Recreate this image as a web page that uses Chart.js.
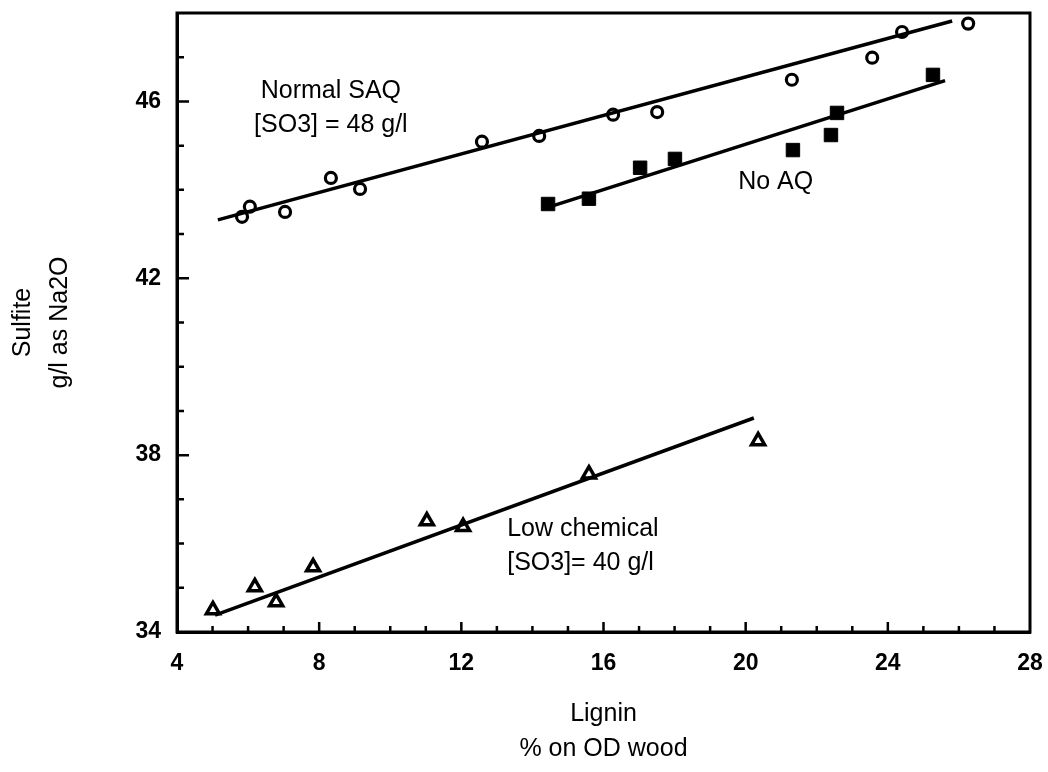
<!DOCTYPE html>
<html>
<head>
<meta charset="utf-8">
<script src="https://cdn.jsdelivr.net/npm/chart.js@4.4.1/dist/chart.umd.min.js"></script>
<style>
html,body{margin:0;padding:0;background:#fff;}
#wrap{width:1048px;height:772px;position:relative;}
</style>
</head>
<body>
<div id="wrap"><canvas id="c"></canvas></div>
<script>
// ---- data ----
const saqX = [5.83, 6.05, 7.04, 8.33, 9.15, 12.58, 14.19, 16.27, 17.51, 21.30, 23.56, 24.40, 26.26];
const saqY = [43.39, 43.62, 43.50, 44.27, 44.02, 45.09, 45.22, 45.70, 45.76, 46.49, 46.99, 47.57, 47.76];
const noAqX = [14.44, 15.59, 17.03, 18.01, 21.33, 22.40, 22.57, 25.27];
const noAqY = [43.68, 43.80, 44.50, 44.70, 44.90, 45.24, 45.74, 46.60];
const lowX = [5.01, 6.19, 6.79, 7.83, 11.03, 12.05, 15.59, 20.35];
const lowY = [34.50, 35.02, 34.68, 35.47, 36.51, 36.38, 37.57, 38.32];
// fitted lines (end points)
const saqLineX = [5.15, 25.81];
const saqLineY = [43.32, 47.82];
const noAqLineX = [14.50, 25.61];
const noAqLineY = [43.62, 46.47];
const lowLineX = [5.07, 20.23];
const lowLineY = [34.38, 38.84];
// axes
const xTicks = [4, 8, 12, 16, 20, 24, 28];
const yTicks = [34, 38, 42, 46];
const xMin = 4, xMax = 28, yMin = 34, yMax = 48;
const xTitle = ["Lignin", "% on OD wood"];
const yTitle = ["Sulfite", "g/l as Na2O"];
// annotations (text, anchor in data units)
const noteText = [["Normal SAQ", "[SO3] = 48 g/l"], ["No AQ"], ["Low chemical", "[SO3]= 40 g/l"]];
const noteX = [8.33, 19.79, 13.29];
const noteY = [46.24, 44.18, 36.33];
const noteAlign = ["center", "left", "left"];

const pts = (xs, ys) => xs.map((x, i) => ({x: x, y: ys[i]}));
const FONT = "'Liberation Sans', Arial, Helvetica, sans-serif";

const frame = {
  id: 'frame',
  afterDraw(chart) {
    const {ctx, chartArea: a, scales: {x, y}} = chart;
    ctx.save();
    ctx.strokeStyle = '#000';
    ctx.lineWidth = 3;
    ctx.strokeRect(a.left, a.top, a.right - a.left, a.bottom - a.top);
    ctx.lineWidth = 2.5;
    ctx.beginPath();
    for (let v = xMin + 1; v < xMax; v++) {
      const px = x.getPixelForValue(v);
      const len = (v % 4 === 0) ? 10 : 6;
      ctx.moveTo(px, a.bottom); ctx.lineTo(px, a.bottom - len);
    }
    for (let v = yMin + 1; v < yMax; v++) {
      const py = y.getPixelForValue(v);
      const len = ((v - yMin) % 4 === 0) ? 12 : 7;
      ctx.moveTo(a.left, py); ctx.lineTo(a.left + len, py);
    }
    ctx.stroke();
    // annotations
    ctx.fillStyle = '#000';
    ctx.font = '25px ' + FONT;
    ctx.textBaseline = 'middle';
    noteText.forEach((lines, i) => {
      ctx.textAlign = noteAlign[i];
      const px = x.getPixelForValue(noteX[i]);
      const py = y.getPixelForValue(noteY[i]);
      lines.forEach((t, k) => ctx.fillText(t, px, py + k * 34));
    });
    ctx.restore();
  }
};

new Chart(document.getElementById('c'), {
  type: 'scatter',
  data: {
    datasets: [
      {data: pts(saqLineX, saqLineY), showLine: true, borderColor: '#000', borderWidth: 3.5, pointRadius: 0},
      {data: pts(noAqLineX, noAqLineY), showLine: true, borderColor: '#000', borderWidth: 3.5, pointRadius: 0},
      {data: pts(lowLineX, lowLineY), showLine: true, borderColor: '#000', borderWidth: 3.5, pointRadius: 0},
      {data: pts(saqX, saqY), pointStyle: 'circle', pointRadius: 5.5, pointBorderWidth: 3.2, pointBackgroundColor: '#fff', pointBorderColor: '#000'},
      {data: pts(noAqX, noAqY), pointStyle: 'rect', pointRadius: 9.5, pointBorderWidth: 1, pointBackgroundColor: '#000', pointBorderColor: '#000'},
      {data: pts(lowX, lowY), pointStyle: 'triangle', pointRadius: 7.5, pointBorderWidth: 3.5, pointBackgroundColor: '#fff', pointBorderColor: '#000'}
    ]
  },
  options: {
    responsive: true,
    maintainAspectRatio: false,
    animation: false,
    layout: {padding: {top: 13, right: 18, left: 0, bottom: 0}},
    plugins: {legend: {display: false}, tooltip: {enabled: false}},
    scales: {
      x: {
        type: 'linear', min: xMin, max: xMax,
        afterBuildTicks: s => { s.ticks = xTicks.map(v => ({value: v})); },
        afterFit: s => { s.height = 140; s.paddingLeft = 0; s.paddingRight = 0; },
        grid: {display: false, drawTicks: false},
        border: {display: true, color: '#000', width: 3},
        ticks: {color: '#000', padding: 18, font: {family: FONT, size: 23, weight: 'bold'}},
        title: {display: true, text: xTitle, color: '#000', font: {family: FONT, size: 25, lineHeight: 1.4}, padding: {top: 0, bottom: 5}}
      },
      y: {
        type: 'linear', min: yMin, max: yMax,
        afterBuildTicks: s => { s.ticks = yTicks.map(v => ({value: v})); },
        afterFit: s => { s.width = 177; s.paddingTop = 0; s.paddingBottom = 0; },
        grid: {display: false, drawTicks: false},
        border: {display: true, color: '#000', width: 3},
        ticks: {color: '#000', padding: 16, font: {family: FONT, size: 23, weight: 'bold'}},
        title: {display: true, text: yTitle, color: '#000', font: {family: FONT, size: 25, lineHeight: 1.5}, padding: {top: 4, bottom: 0}}
      }
    }
  },
  plugins: [frame]
});
</script>
</body>
</html>
